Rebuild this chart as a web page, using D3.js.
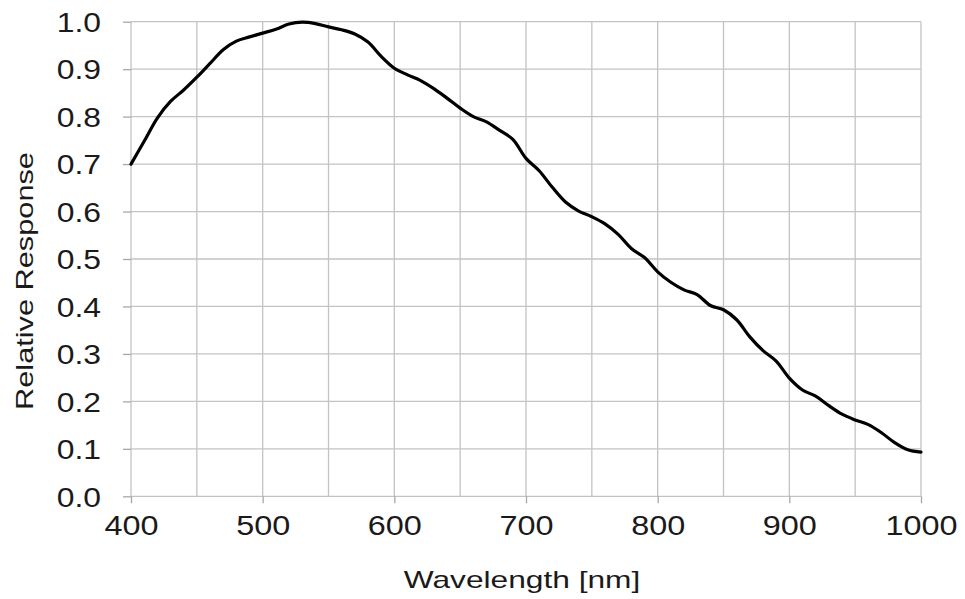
<!DOCTYPE html>
<html>
<head>
<meta charset="utf-8">
<script src="https://cdn.jsdelivr.net/npm/d3@7"></script>
<style>
  html, body { margin: 0; padding: 0; background: #fff; }
  svg { display: block; }
  text { font-family: "Liberation Sans", Arial, sans-serif; fill: #1a1a1a; }
</style>
</head>
<body>
<svg id="chart" width="965" height="599"></svg>
<script>
// ---- data ----
const wavelengths = [400,410,420,430,440,450,460,470,480,490,500,510,520,530,540,550,560,570,580,590,
  600,610,620,630,640,650,660,670,680,690,700,710,720,730,740,750,760,770,780,790,
  800,810,820,830,840,850,860,870,880,890,900,910,920,930,940,950,960,970,980,990,1000];
const response = [0.700,0.748,0.797,0.832,0.856,0.883,0.912,0.941,0.959,0.968,0.976,0.984,0.995,0.999,0.996,0.989,0.983,0.974,0.957,0.927,
  0.902,0.888,0.876,0.859,0.839,0.818,0.800,0.789,0.771,0.752,0.712,0.686,0.651,0.620,0.601,0.589,0.574,0.552,0.522,0.503,
  0.473,0.451,0.435,0.425,0.402,0.393,0.372,0.336,0.307,0.285,0.249,0.224,0.211,0.191,0.173,0.161,0.151,0.134,0.113,0.098,0.093];
const xTickLabels = [400,500,600,700,800,900,1000];
const xGridValues = [400,450,500,550,600,650,700,750,800,850,900,950,1000];
const yTickLabels = [0,0.1,0.2,0.3,0.4,0.5,0.6,0.7,0.8,0.9,1.0];
const xTitle = "Wavelength [nm]";
const yTitle = "Relative Response";

// ---- layout ----
const svg = d3.select("#chart");
const plotLeft = 131, plotRight = 921, plotTop = 21.7, plotBottom = 496.3;
const x = d3.scaleLinear().domain([400, 1000]).range([plotLeft, plotRight]);
const y = d3.scaleLinear().domain([0, 1]).range([plotBottom, plotTop]);
const gridColor = "#c3c3c3";

function stretch(sel, k) {
  sel.each(function() {
    const len = this.getComputedTextLength();
    d3.select(this).attr("textLength", len * k).attr("lengthAdjust", "spacingAndGlyphs");
  });
}

// grid
svg.append("g").selectAll("line").data(xGridValues).join("line")
  .attr("x1", d => x(d)).attr("x2", d => x(d))
  .attr("y1", plotTop).attr("y2", plotBottom)
  .attr("stroke", gridColor).attr("stroke-width", 1.3);
svg.append("g").selectAll("line").data(yTickLabels).join("line")
  .attr("x1", plotLeft).attr("x2", plotRight)
  .attr("y1", d => y(d)).attr("y2", d => y(d))
  .attr("stroke", gridColor).attr("stroke-width", 1.3);

// x axis
const xAxis = d3.axisBottom(x).tickValues(xTickLabels).tickSize(7).tickPadding(0).tickFormat(d3.format("d"));
const gx = svg.append("g").attr("transform", `translate(0,${plotBottom})`).call(xAxis);
gx.select(".domain").remove();
gx.selectAll(".tick line").attr("stroke", "#a8a8a8").attr("stroke-width", 1.3);
gx.selectAll(".tick text").attr("y", 38.5).attr("dy", null)
  .style("font-size", "27px").style("font-family", "'Liberation Sans', Arial, sans-serif").attr("fill", "#1a1a1a")
  .call(stretch, 1.2);

// y axis
const yAxis = d3.axisLeft(y).tickValues(yTickLabels).tickSize(8).tickPadding(0).tickFormat(d3.format(".1f"));
const gy = svg.append("g").attr("transform", `translate(${plotLeft},0)`).call(yAxis);
gy.select(".domain").remove();
gy.selectAll(".tick line").attr("stroke", "#a8a8a8").attr("stroke-width", 1.3);
gy.selectAll(".tick text").attr("x", -30).attr("dy", "0.36em")
  .style("font-size", "27px").style("font-family", "'Liberation Sans', Arial, sans-serif").attr("fill", "#1a1a1a")
  .call(stretch, 1.18);

// line
const line = d3.line().x((d, i) => x(wavelengths[i])).y(d => y(d)).curve(d3.curveCatmullRom.alpha(0.5));
svg.append("path").datum(response)
  .attr("d", line).attr("fill", "none").attr("stroke", "#000")
  .attr("stroke-width", 3.2).attr("stroke-linejoin", "round").attr("stroke-linecap", "round");

// titles
svg.append("text").attr("x", (plotLeft + plotRight) / 2 - 4).attr("y", 588)
  .attr("text-anchor", "middle").style("font-size", "24px").text(xTitle)
  .call(stretch, 1.32);
svg.append("text").attr("transform", "translate(33,281) rotate(-90)")
  .attr("text-anchor", "middle").style("font-size", "24px").text(yTitle)
  .call(stretch, 1.28);
</script>
</body>
</html>
